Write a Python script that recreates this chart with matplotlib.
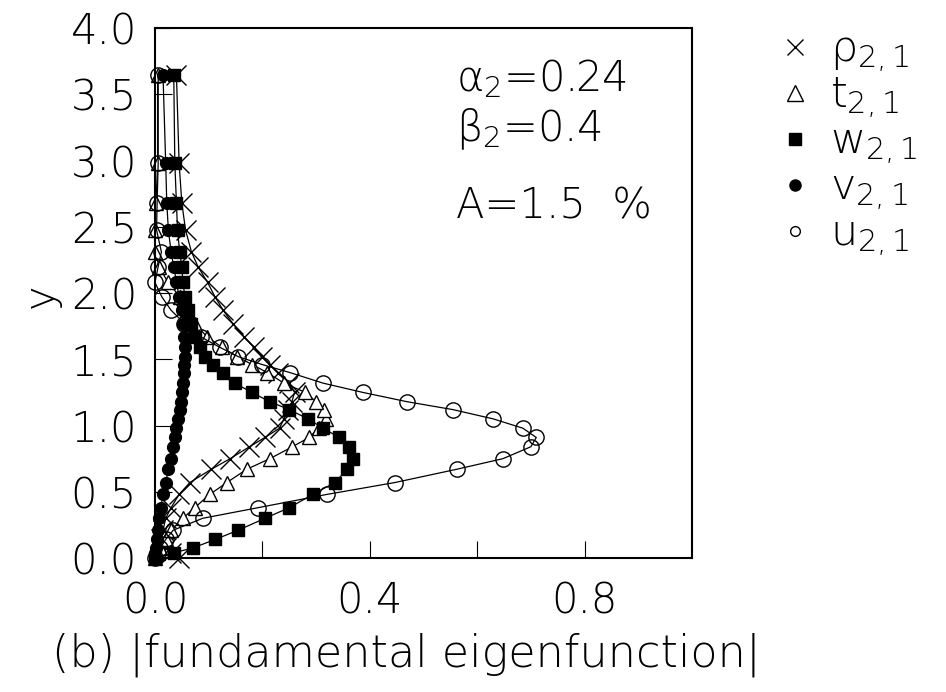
import matplotlib.pyplot as plt
from matplotlib.lines import Line2D
from matplotlib.ticker import MultipleLocator, FixedLocator

plt.rcParams['font.family'] = ['DejaVu Sans']
plt.rcParams['font.weight'] = 'light'
plt.rcParams['mathtext.fontset'] = 'custom'
plt.rcParams['mathtext.rm'] = 'DejaVu Sans:light'
plt.rcParams['mathtext.it'] = 'DejaVu Sans:light'
plt.rcParams['mathtext.bf'] = 'DejaVu Sans'

# shared wall-normal grid
y_grid = [0.0, 0.04, 0.075, 0.14, 0.21, 0.30, 0.38, 0.48, 0.57, 0.67, 0.75,
          0.84, 0.91, 0.98, 1.05, 1.12, 1.18, 1.25, 1.32, 1.40, 1.46, 1.52,
          1.59, 1.67, 1.77, 1.87, 1.97, 2.08, 2.20, 2.31, 2.475, 2.68, 2.98, 3.645]

rho = [0.045, 0.03, 0.02, 0.012, 0.015, 0.02, 0.03, 0.045, 0.065, 0.105, 0.14,
       0.176, 0.205, 0.232, 0.24, 0.248, 0.255, 0.26, 0.25, 0.23, 0.214, 0.2,
       0.184, 0.166, 0.145, 0.127, 0.112, 0.098, 0.08, 0.068, 0.057, 0.05, 0.045, 0.04]

t = [0.0, 0.005, 0.01, 0.02, 0.03, 0.052, 0.074, 0.102, 0.134, 0.171, 0.214,
     0.256, 0.287, 0.305, 0.318, 0.315, 0.30, 0.28, 0.24, 0.209, 0.181, 0.153,
     0.125, 0.097, 0.074, 0.06, 0.047, 0.024, 0.008, 0.0, 0.0, 0.002, 0.005, 0.005]

w = [0.0, 0.035, 0.07, 0.112, 0.155, 0.205, 0.25, 0.294, 0.335, 0.358, 0.368,
     0.361, 0.343, 0.313, 0.285, 0.25, 0.214, 0.18, 0.149, 0.127, 0.108, 0.093,
     0.084, 0.074, 0.068, 0.061, 0.056, 0.052, 0.05, 0.046, 0.042, 0.04, 0.037, 0.035]

v = [0.0, 0.001, 0.002, 0.003, 0.005, 0.008, 0.011, 0.015, 0.02, 0.025, 0.029,
     0.033, 0.037, 0.04, 0.043, 0.046, 0.048, 0.05, 0.052, 0.054, 0.055, 0.056,
     0.056, 0.055, 0.053, 0.05, 0.045, 0.04, 0.035, 0.03, 0.025, 0.022, 0.02, 0.015]

u = [0.0, 0.005, 0.01, 0.02, 0.034, 0.089, 0.192, 0.32, 0.447, 0.562, 0.648,
     0.70, 0.71, 0.685, 0.63, 0.555, 0.469, 0.387, 0.313, 0.251, 0.20, 0.155,
     0.121, 0.085, 0.055, 0.03, 0.013, 0.0, 0.006, 0.012, 0.003, 0.004, 0.006, 0.006]

labels = [r'$\rho_{2,1}$', r'$t_{2,1}$', r'$w_{2,1}$', r'$v_{2,1}$', r'$u_{2,1}$']
fs = 30

fig = plt.figure(figsize=(9.46, 6.92), dpi=100)
ax = fig.add_axes([0.1638, 0.1936, 0.5677, 0.7659])

lw = 0.9
ax.plot(rho, y_grid, color='black', lw=lw, marker='x', ms=15, mew=1.0, clip_on=False)
ax.plot(t, y_grid, color='black', lw=lw, marker='^', ms=10, mfc='white', mew=1.0, clip_on=False)
ax.plot(w, y_grid, color='black', lw=lw, marker='s', ms=9, clip_on=False)
ax.plot(v, y_grid, color='black', lw=lw, marker='o', ms=8.5, clip_on=False)
ax.plot(u, y_grid, color='black', lw=lw, marker='o', ms=11, mfc='none', mew=1.0, clip_on=False)

ax.set_xlim(0, 1.0)
ax.set_ylim(0, 4.0)
ax.xaxis.set_major_locator(FixedLocator([0.0, 0.4, 0.8]))
ax.xaxis.set_minor_locator(FixedLocator([0.2, 0.6]))
ax.yaxis.set_major_locator(MultipleLocator(0.5))
ax.xaxis.set_major_formatter(plt.FuncFormatter(lambda x, p: f'{x:.1f}'))
ax.yaxis.set_major_formatter(plt.FuncFormatter(lambda x, p: f'{x:.1f}'))
ax.tick_params(axis='both', which='both', direction='in', length=12, width=0.8,
               labelsize=fs, top=False, right=False)
ax.tick_params(axis='x', which='major', pad=16)
ax.tick_params(axis='y', which='major', pad=13)
for s in ax.spines.values():
    s.set_linewidth(1.5)

ax.text(0.56, 0.905, r'$\alpha_2$=0.24', transform=ax.transAxes, fontsize=fs, va='center')
ax.text(0.56, 0.81, r'$\beta_2$=0.4', transform=ax.transAxes, fontsize=fs, va='center')
ax.text(0.56, 0.665, 'A=1.5  %', transform=ax.transAxes, fontsize=fs, va='center')

fig.text(406 / 946, 1 - 655 / 692, '(b) |fundamental eigenfunction|',
         fontsize=fs + 2, ha='center', va='center')
fig.text(40 / 946, 1 - 296 / 692, 'y', fontsize=fs, rotation=90,
         ha='center', va='center')

handles = [
    Line2D([], [], ls='none', color='black', marker='x', ms=12, mew=1.0),
    Line2D([], [], ls='none', color='black', marker='^', ms=12, mfc='white', mew=1.0),
    Line2D([], [], ls='none', color='black', marker='s', ms=8),
    Line2D([], [], ls='none', color='black', marker='o', ms=8),
    Line2D([], [], ls='none', color='black', marker='o', ms=7, mfc='white', mew=1.0),
]
fig.legend(handles, labels, loc='upper left', bbox_to_anchor=(752 / 946, 1 - 8 / 692),
           frameon=False, fontsize=fs + 1, handlelength=1.0, handletextpad=0.3,
           labelspacing=0.0, borderpad=0)

fig.savefig('out.png', dpi=100)
